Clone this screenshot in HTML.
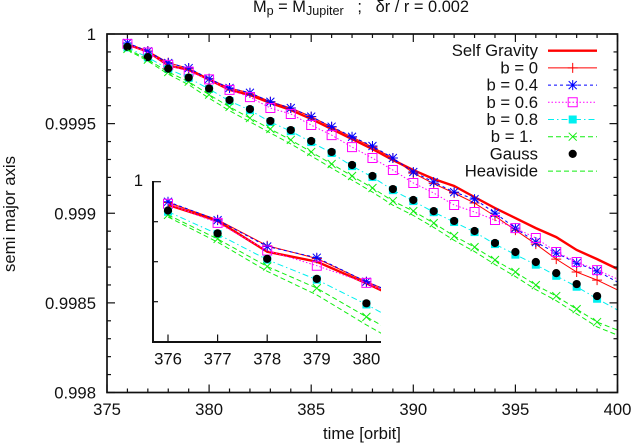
<!DOCTYPE html>
<html lang="en">
<head>
<meta charset="utf-8">
<title>Semi major axis vs time</title>
<style>
html,body{margin:0;padding:0;background:#fff;width:634px;height:444px;overflow:hidden}
svg{display:block}
text{font-family:"Liberation Sans",sans-serif;fill:#111}
</style>
</head>
<body>
<svg id="chart" xmlns="http://www.w3.org/2000/svg" width="634" height="444" viewBox="0 0 634 444">
  <defs>
    <clipPath id="main-clip"><rect x="107" y="34" width="510.5" height="358.5"/></clipPath>
    <clipPath id="inset-clip"><rect x="153" y="181.7" width="228" height="160.3"/></clipPath>
  </defs>
  <text x="361" y="12" text-anchor="middle" font-size="16.4">M<tspan dy="3" font-size="12.6">p</tspan><tspan dy="-3"> = M</tspan><tspan dy="3" font-size="12.6">Jupiter</tspan><tspan dy="-3" xml:space="preserve">   ;   δr / r = 0.002</tspan></text>
  <text transform="translate(15,214) rotate(-90)" text-anchor="middle" font-size="16.7">semi major axis</text>
  <text x="362" y="439" text-anchor="middle" font-size="16.7">time [orbit]</text>
  <g id="main-series" clip-path="url(#main-clip)"></g>
  <g id="main-axes"></g>
  <g id="inset-series" clip-path="url(#inset-clip)"></g>
  <g id="inset-axes"></g>
  <g id="legend"></g>
</svg>
<script>
const orbits = [376,377,378,379,380,381,382,383,384,385,386,387,388,389,390,391,392,393,394,395,396,397,398,399,400];
const selfGravity = [.999942,.999902,.999825,.9998,.999746,.999688,.99966,.999615,.999576,.999526,.99947,.999414,.999358,.999297,.999241,.999191,.999152,.99909,.999029,.998973,.998917,.998867,.998795,.998744,.998689];
const b0 = [.999948,.999905,.99984,.999808,.99975,.999699,.999671,.999622,.999587,.999539,.999481,.999425,.999369,.999308,.999224,.999165,.999113,.999057,.998984,.998906,.998828,.998744,.998672,.998627,.998572];
const b04 = [.99995,.999904,.999838,.99981,.99975,.999699,.999672,.999622,.999587,.999539,.999483,.999427,.999375,.999308,.99923,.999174,.999118,.999079,.999001,.998917,.998839,.998778,.998722,.998678,.998616];
const b06 = [.999945,.999897,.999828,.99979,.999747,.999688,.999648,.999587,.999554,.999492,.999436,.999369,.999308,.999241,.999169,.999113,.999046,.999007,.998962,.998917,.998862,.998784,.998728,.998683,.998633];
const b08 = [.999925,.999869,.999805,.999755,.999693,.999626,.999575,.999509,.999458,.999397,.999336,.999263,.999202,.999129,.999068,.999006,.998951,.998895,.998828,.998769,.998713,.998651,.99859,.998523,.99846];
const b1 = [.999917,.999857,.999788,.999734,.999662,.999593,.999531,.99947,.999409,.999342,.999275,.999208,.999141,.999068,.999012,.998945,.998873,.998811,.998739,.998672,.998599,.998538,.998465,.998393,.998348];
const gauss = [.999928,.999871,.999807,.999757,.999696,.999632,.999581,.999515,.999464,.999403,.999342,.999269,.999208,.999135,.999074,.999012,.998957,.998901,.998834,.998784,.998728,.998666,.998605,.998538];
const heaviside = [.999912,.999849,.999776,.999717,.999642,.999572,.99951,.999448,.999387,.99932,.999252,.999185,.999118,.999045,.998988,.998921,.998849,.998786,.998714,.998647,.998574,.998512,.998439,.998366,.99832];
const xTicks = [375,380,385,390,395,400];
const yTicks = [0.998,0.9985,0.999,0.9995,1];
const insetXTicks = [376,377,378,379,380];
const legendLabels = ["Self Gravity","b = 0","b = 0.4","b = 0.6","b = 0.8","b = 1. ","Gauss","Heaviside"];

const NS = "http://www.w3.org/2000/svg";
const mainX = v => 107 + (v - 375) * 20.42;
const mainY = v => 34 + (1 - v) * 179250;
const insetX = v => 168 + (v - 376) * 49.6;
const insetY = v => 181.7 + (1 - v) * 400000;

function make(tag, attrs, parent) {
  const el = document.createElementNS(NS, tag);
  for (const k in attrs) el.setAttribute(k, attrs[k]);
  parent.appendChild(el);
  return el;
}

function markerPath(type, x, y) {
  const f = n => n.toFixed(2);
  if (type === "plus") return `M${f(x-5)} ${f(y)}H${f(x+5)}M${f(x)} ${f(y-5)}V${f(y+5)}`;
  if (type === "star") return `M${f(x-5)} ${f(y)}H${f(x+5)}M${f(x)} ${f(y-5)}V${f(y+5)}M${f(x-4)} ${f(y-4)}L${f(x+4)} ${f(y+4)}M${f(x-4)} ${f(y+4)}L${f(x+4)} ${f(y-4)}`;
  if (type === "box") return `M${f(x-4.5)} ${f(y-4.5)}H${f(x+4.5)}V${f(y+4.5)}H${f(x-4.5)}Z`;
  if (type === "fill") return `M${f(x-4)} ${f(y-4)}H${f(x+4)}V${f(y+4)}H${f(x-4)}Z`;
  if (type === "cross") return `M${f(x-4)} ${f(y-4)}L${f(x+4)} ${f(y+4)}M${f(x-4)} ${f(y+4)}L${f(x+4)} ${f(y-4)}`;
  return "";
}

function drawMarker(type, color, x, y, parent) {
  if (type === "dot") {
    const c = make("circle", {cx: x, cy: y, r: 4.1, fill: "#000"}, parent);
    
    
    return;
  }
  const filled = type === "fill";
  const p = make("path", {d: markerPath(type, x, y), fill: filled ? color : "none", stroke: filled ? "none" : color, "stroke-width": 1}, parent);
  
  
}

const seriesList = [
  {key: "self-gravity", vals: selfGravity, color: "#ff0000", w: 2.4, dash: "", marker: null},
  {key: "b-0", vals: b0, color: "#ff0000", w: 1, dash: "", marker: "plus"},
  {key: "b-0-4", vals: b04, color: "#0000ff", w: 1, dash: "3 3", marker: "star"},
  {key: "b-0-6", vals: b06, color: "#ff00ff", w: 1, dash: "1.5 2", marker: "box"},
  {key: "b-0-8", vals: b08, color: "#00f0f0", w: 1, dash: "6 3 1.5 3", marker: "fill"},
  {key: "b-1", vals: b1, color: "#11ee11", w: 1, dash: "5 3", marker: "cross"},
  {key: "gauss", vals: gauss, color: "#000", w: 0, dash: "", marker: "dot"},
  {key: "heaviside", vals: heaviside, color: "#11ee11", w: 1, dash: "5 3", marker: null}
];

/* lineMax: last orbit drawn for lines (the inset stops just past its clip edge) */
function drawSeries(parent, sx, sy, markerMax, lineMax, prefix) {
  seriesList.forEach(s => {
    const g = make("g", {}, parent);
    
    
    if (s.w > 0) {
      const pts = s.vals
        .map((v, i) => [orbits[i], v])
        .filter(p => p[0] <= lineMax)
        .map(p => sx(p[0]).toFixed(2) + "," + sy(p[1]).toFixed(2))
        .join(" ");
      const line = make("polyline", {points: pts, fill: "none", stroke: s.color, "stroke-width": s.w, "stroke-dasharray": s.dash || "none"}, g);
      
      
    }
    if (s.marker) {
      s.vals.forEach((v, i) => {
        if (orbits[i] <= markerMax) drawMarker(s.marker, s.color, sx(orbits[i]), sy(v), g);
      });
    }
  });
}

function seg(parent, x1, y1, x2, y2, w, name) {
  const l = make("line", {x1, y1, x2, y2, stroke: "#111", "stroke-width": w}, parent);
  
  
}

function label(parent, x, y, str, anchor, name) {
  const t = make("text", {x, y, "text-anchor": anchor, "font-size": 16.7}, parent);
  t.textContent = str;
  
  
  return t;
}

const mainSeries = document.getElementById("main-series");
const mainAxes = document.getElementById("main-axes");
const insetSeries = document.getElementById("inset-series");
const insetAxes = document.getElementById("inset-axes");
const legend = document.getElementById("legend");

drawSeries(mainSeries, mainX, mainY, 399, 400, "main");
drawSeries(insetSeries, insetX, insetY, 380, 381, "inset");

/* main axes */
const frame = make("rect", {x: 107, y: 34, width: 510.5, height: 358.5, fill: "none", stroke: "#111", "stroke-width": 1.7}, mainAxes);


for (let o = 375; o <= 400; o++) {
  const x = mainX(o);
  const len = o % 5 === 0 ? 8 : 4;
  seg(mainAxes, x, 392.5, x, 392.5 - len, 1.2, 'x-tick-bottom');
  seg(mainAxes, x, 34, x, 34 + len, 1.2, 'x-tick-top');
}
for (let i = 0; i <= 20; i++) {
  const y = mainY(1 - i * 0.0001);
  const len = i % 5 === 0 ? 8 : 4;
  seg(mainAxes, 107, y, 107 + len, y, 1.2, 'y-tick-left');
  seg(mainAxes, 617.5, y, 617.5 - len, y, 1.2, 'y-tick-right');
}
xTicks.forEach(v => label(mainAxes, mainX(v), 415, String(v), "middle", 'x-tick-label'));
yTicks.forEach(v => label(mainAxes, 96, mainY(v) + 6, String(v), "end", 'y-tick-label'));

/* inset axes */
seg(insetAxes, 153, 181, 153, 343, 2, 'inset-y-axis');
seg(insetAxes, 152, 342, 381, 342, 2, 'inset-x-axis');
insetXTicks.forEach(v => {
  seg(insetAxes, insetX(v), 342, insetX(v), 334.5, 1.2, 'inset-x-tick');
  label(insetAxes, insetX(v), 364.5, String(v), "middle", 'inset-x-tick-label');
});
for (let i = 0; i <= 3; i++) {
  const y = insetY(1 - i * 0.0001);
  seg(insetAxes, 153, y, i === 0 ? 161 : 158, y, 1.2, 'inset-y-tick');
}
label(insetAxes, 143, 186, "1", "end", 'inset-y-tick-label');

/* legend */
legendLabels.forEach((txt, i) => {
  const s = seriesList[i];
  const y = 50.7 + i * 17.2;
  const g = make("g", {}, legend);
  
  
  label(g, txt.endsWith(" ") ? 533 : 538, y + 5.5, txt.trim(), "end", 'legend-label');
  if (s.w > 0) {
    const l = make("line", {x1: 548, y1: y, x2: 597, y2: y, stroke: s.color, "stroke-width": s.w, "stroke-dasharray": s.dash || "none"}, g);
    
    
  }
  if (s.marker) drawMarker(s.marker, s.color, 572.7, y, g);
});
</script>
</body>
</html>
